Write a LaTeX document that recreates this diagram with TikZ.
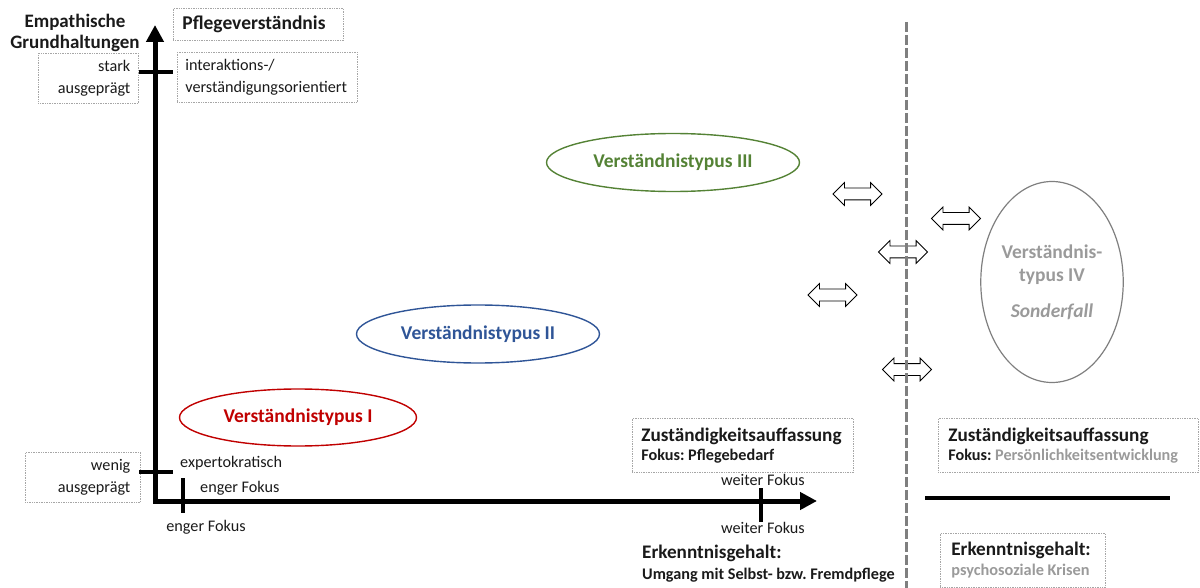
\documentclass[tikz,border=0pt]{standalone}
\usepackage{fontspec}
\setmainfont{Carlito}
\usetikzlibrary{shapes.geometric,shapes.arrows,arrows.meta}
\definecolor{tgreen}{HTML}{548235}
\definecolor{tblue}{HTML}{2F5597}
\definecolor{tred}{HTML}{C00000}
\definecolor{tgray}{HTML}{9A9A9A}
\definecolor{egray}{HTML}{7F7F7F}
\definecolor{boxgray}{HTML}{A6A6A6}
\definecolor{txt}{HTML}{1A1A1A}
\newcommand\fs[2]{\fontsize{#1}{#2}\selectfont}
\frenchspacing
\begin{document}
\begin{tikzpicture}[x=1pt,y=-1pt,
  box/.style={draw=boxgray, densely dotted, line width=0.7pt, inner ysep=0pt, anchor=north west, text=txt},
  lbl/.style={inner sep=0pt, text=txt, font=\fs{16.2}{19}},
  ell/.style={ellipse, line width=1.4pt, inner sep=0pt, font=\bfseries\fs{19.5}{22}},
  darrow/.style={double arrow, draw=black, fill=white, line width=0.8pt, minimum height=49pt, double arrow head extend=5.5pt, inner xsep=0pt, inner ysep=5.5pt},
  axis/.style={line width=5pt, line join=miter, {Triangle[width=17pt,length=17pt]}-{Triangle[width=17pt,length=17pt]}},
  tickmark/.style={line width=4pt},
  vline/.style={draw=egray, line width=3pt, dash pattern=on 10pt off 3pt}
]
\useasboundingbox (0,0) rectangle (1200,588);

% title and axis label
\node[align=center, text=txt, font=\bfseries\fs{19}{21}, inner sep=0pt] (emp) at (75,32.5) {Empathische\\Grundhaltungen};
\node[box, minimum width=170pt, minimum height=32pt, text width=152pt, inner xsep=9pt, align=flush left, font=\bfseries\fs{19.5}{22}] (pfl) at (173,8) {Pflegeverständnis};

% y-axis boxes
\node[box, minimum width=100pt, minimum height=50pt, text width=84pt, inner xsep=8pt, align=flush right, font=\fs{16.2}{21.5}] (stark) at (38,53) {stark\\ausgeprägt};
\node[box, minimum width=180pt, minimum height=50pt, text width=164pt, inner xsep=8pt, align=flush left, font=\fs{16.2}{21.5}] (inter) at (177,52) {interaktions-/\\verständigungsorientiert};
\node[box, minimum width=115pt, minimum height=50pt, text width=95pt, inner xsep=10pt, align=flush right, font=\fs{16.2}{21.5}] (wenig) at (25,452) {wenig\\ausgeprägt};

% axes
\coordinate (O) at (155,501);
\coordinate (Ytip) at (155,25);
\coordinate (Xtip) at (817,501);
\draw[axis] (Ytip) -- (O) -- (Xtip);
\draw[tickmark] (139,72) -- (173,72);
\draw[tickmark] (139,472) -- (173,472);
\draw[tickmark] (183,478) -- (183,513);
\draw[tickmark] (761,488) -- (761,522);

% axis labels
\node[lbl, anchor=west] (exp) at (180,463) {expertokratisch};
\node[lbl, anchor=west] (eng1) at (200,488) {enger Fokus};
\node[lbl] (eng2) at (206,527) {enger Fokus};
\node[lbl] (wei1) at (763,480) {weiter Fokus};
\node[lbl] (wei2) at (763,528) {weiter Fokus};

% ellipses
\node[ell, draw=tgreen, text=tgreen, minimum width=253pt, minimum height=58pt] (t3) at (673,162.5) {Verständnistypus III};
\node[ell, draw=tblue, text=tblue, minimum width=243pt, minimum height=58pt] (t2) at (478,334) {Verständnistypus II};
\node[ell, draw=tred, text=tred, minimum width=237pt, minimum height=57pt] (t1) at (298,417.5) {Verständnistypus I};
\node[ellipse, draw=egray, line width=1.2pt, text=tgray, minimum width=140pt, minimum height=201pt, inner sep=0pt, align=center, font=\bfseries\fs{19.5}{23}] (t4) at (1052,282) {Verständnis-\\typus IV\\[13pt]\textit{Sonderfall}};

% double arrows
\node[darrow] (a1) at (857.5,194) {};
\node[darrow] (a2) at (956,218.5) {};
\node[darrow] (a3) at (903,252) {};
\node[darrow] (a4) at (832.5,295) {};
\node[darrow] (a5) at (907,369.5) {};

% separator
\draw[vline] (906,22) -- (906,588);

% bottom boxes
\node[box, minimum width=221pt, minimum height=54pt, text width=203pt, inner xsep=9pt, align=flush left, font=\bfseries\fs{19.2}{19}] (zu1) at (632,418) {Zuständigkeitsauffassung\\{\fs{16.2}{19}Fokus: Pflegebedarf}};
\node[box, minimum width=260pt, minimum height=54pt, text width=240pt, inner xsep=10pt, align=flush left, font=\bfseries\fs{19.2}{19}] (zu2) at (938,418) {Zuständigkeitsauffassung\\{\fs{16.2}{19}Fokus: \textcolor{tgray}{Persönlichkeitsentwicklung}}};
\draw[line width=4.5pt] (925,498) -- (1170,498);
\node[box, minimum width=165pt, minimum height=54pt, text width=143pt, inner xsep=11pt, align=flush left, font=\bfseries\fs{19.2}{20}] (erk2) at (940,533) {Erkenntnisgehalt:\\{\fs{16.3}{20}\textcolor{tgray}{psychosoziale Krisen}}};

\node[lbl, anchor=west, font=\bfseries\fs{19.2}{21}] (erkA) at (642,553) {Erkenntnisgehalt:};
\node[lbl, anchor=west, font=\bfseries\fs{16.2}{19}] (erkB) at (642,575) {Umgang mit Selbst- bzw. Fremdpflege};
\end{tikzpicture}
\end{document}
